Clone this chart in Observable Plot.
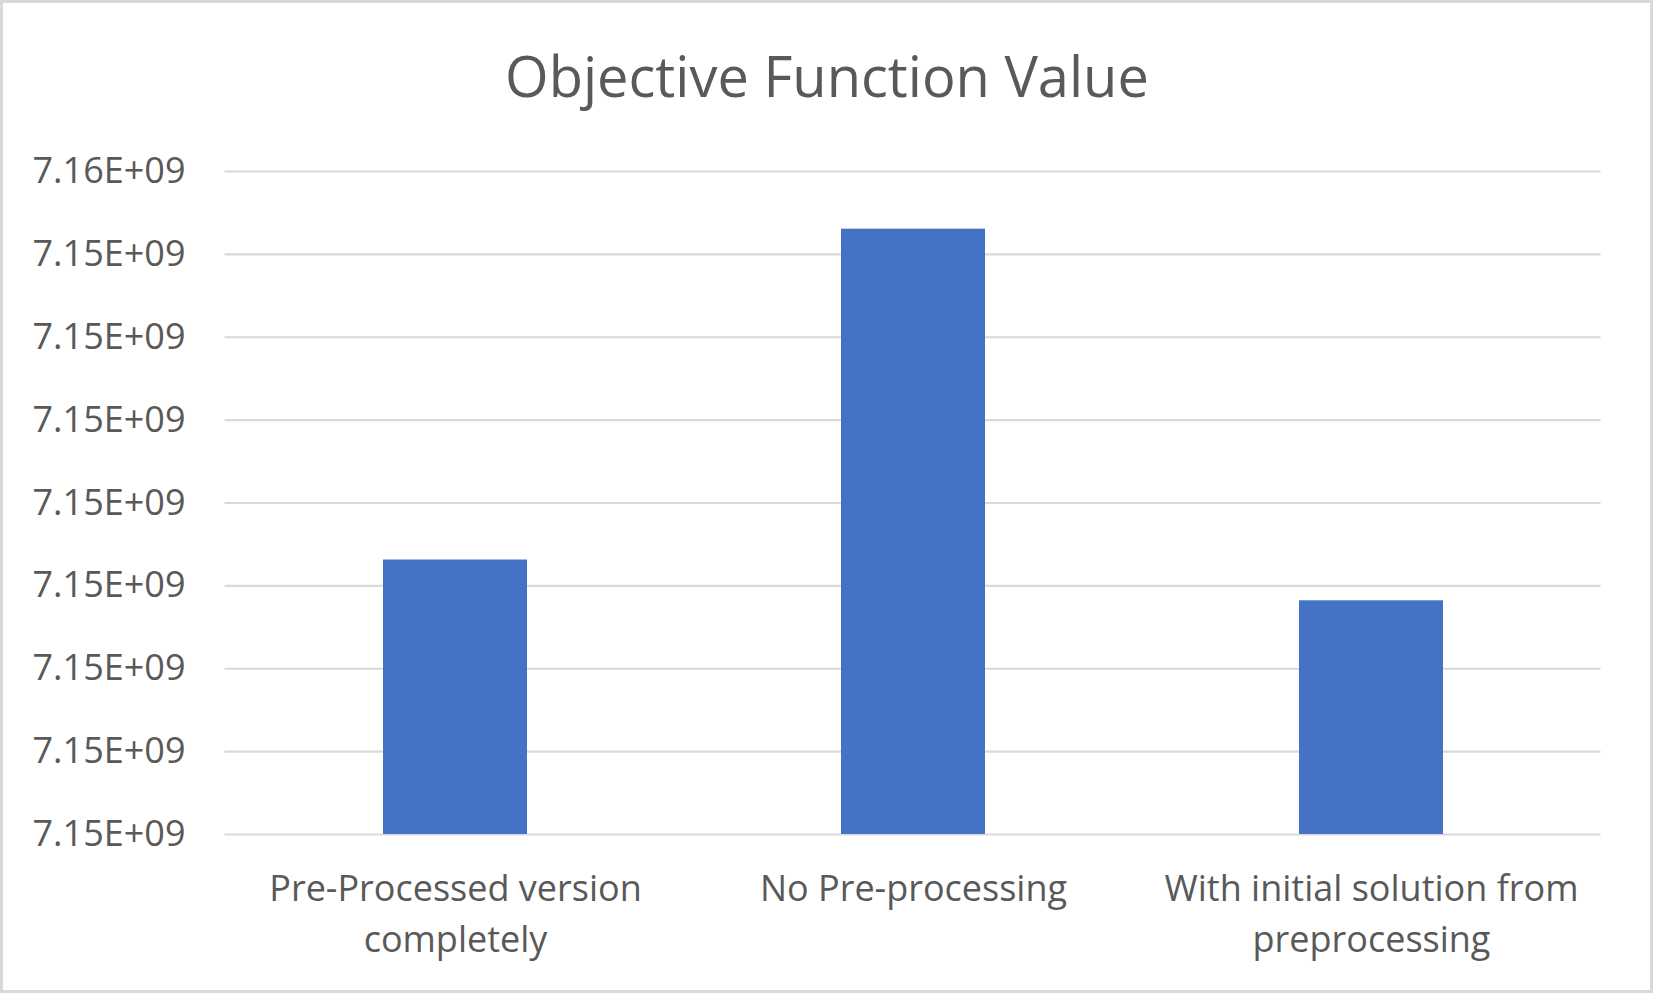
<!DOCTYPE html>
<html>
<head>
<meta charset="utf-8">
<script src="https://cdn.jsdelivr.net/npm/d3@7"></script>
<script src="https://cdn.jsdelivr.net/npm/@observablehq/plot@0.6"></script>
<style>
  html, body { margin: 0; padding: 0; background: #ffffff; }
  #wrap { position: relative; width: 1653px; height: 993px; overflow: hidden; }
  #border { position: absolute; left: 0; top: 0; width: 1653px; height: 993px; box-sizing: border-box; border: 3px solid #d9d9d9; pointer-events: none; }
  svg { display: block; }
</style>
</head>
<body>
<div id="wrap"><div id="border"></div></div>
<script>
const title = "Objective Function Value";
const categories = ["Pre-Processed version completely", "No Pre-processing", "With initial solution from preprocessing"];
const xLabels = ["Pre-Processed version\ncompletely", "No Pre-processing", "With initial solution from\npreprocessing"];
const values = [7154328000, 7155326000, 7154205000];
const yTicks = [7153500000, 7153750000, 7154000000, 7154250000, 7154500000, 7154750000, 7155000000, 7155250000, 7155500000];
const yTickLabels = ["7.15E+09", "7.15E+09", "7.15E+09", "7.15E+09", "7.15E+09", "7.15E+09", "7.15E+09", "7.15E+09", "7.16E+09"];

const data = categories.map((c, i) => ({cat: c, value: values[i]}));
const base = yTicks[0];

const chart = Plot.plot({
  width: 1653,
  height: 993,
  marginLeft: 224.5,
  marginRight: 52.5,
  marginTop: 171,
  marginBottom: 159,
  style: {fontFamily: "'Open Sans', sans-serif", background: "transparent", color: "#595959"},
  x: {domain: categories, paddingInner: 0.686, paddingOuter: 0.343, label: null},
  y: {domain: [yTicks[0], yTicks[yTicks.length - 1]], label: null},
  marks: [
    Plot.gridY(yTicks, {stroke: "#d9d9d9", strokeOpacity: 1, strokeWidth: 2.2}),
    Plot.barY(data, {x: "cat", y1: d => base, y2: "value", fill: "#4472C4"}),
    Plot.axisY(yTicks, {tickSize: 0, tickPadding: 39.5, tickFormat: d => yTickLabels[yTicks.indexOf(d)], fontSize: 36, fill: "#595959", label: null}),
    Plot.axisX({tickSize: 0, tickPadding: 30, tickFormat: d => xLabels[categories.indexOf(d)], fontSize: 36, lineHeight: 1.42, fill: "#595959", label: null}),
    Plot.text([title], {frameAnchor: "top", lineAnchor: "bottom", dy: -75, dx: -86, fontSize: 56, fill: "#595959"})
  ]
});
document.getElementById("wrap").insertBefore(chart, document.getElementById("border"));
</script>
</body>
</html>
